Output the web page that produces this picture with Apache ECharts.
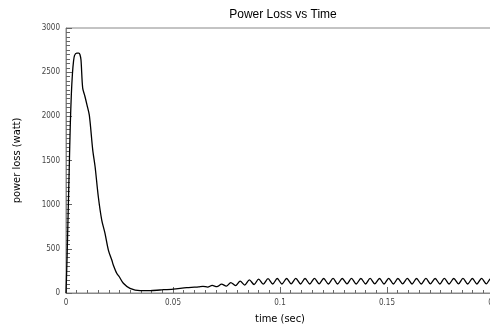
<!DOCTYPE html>
<html>
<head>
<meta charset="utf-8">
<script src="https://cdn.jsdelivr.net/npm/echarts@6/dist/echarts.min.js"></script>
<style>
  html, body { margin: 0; padding: 0; background: #fff; }
  #chart { width: 490px; height: 331px; }
</style>
</head>
<body>
<div id="chart"></div>
<script>
/* 时间 (s) 与 功率损耗 (W) */
const times = [
  0, 0.0005, 0.001, 0.0015, 0.002, 0.0025, 0.003, 0.0035, 0.004, 0.005, 0.006, 0.0065,
  0.007, 0.0078, 0.0088, 0.0098, 0.0109, 0.0125, 0.0136, 0.0151, 0.0167, 0.0182, 0.0198,
  0.0214, 0.0221, 0.0237, 0.0249, 0.0268, 0.0299, 0.0346, 0.0393, 0.0439, 0.0501, 0.0564,
  0.0600, 0.0620,
  0.0640, 0.0662, 0.0683, 0.0705, 0.0727, 0.0749, 0.0770, 0.0792, 0.0814, 0.0835,
  0.0857, 0.0879, 0.0900, 0.0922, 0.0944, 0.0966, 0.0987, 0.1009, 0.1031, 0.1052,
  0.1074, 0.1096, 0.1117, 0.1139, 0.1161, 0.1183, 0.1204, 0.1226, 0.1248, 0.1269,
  0.1291, 0.1313, 0.1334, 0.1356, 0.1378, 0.1400, 0.1421, 0.1443, 0.1465, 0.1486,
  0.1508, 0.1530, 0.1551, 0.1573, 0.1595, 0.1617, 0.1638, 0.1660, 0.1682, 0.1703,
  0.1725, 0.1747, 0.1768, 0.1790, 0.1812, 0.1834, 0.1855, 0.1877, 0.1899, 0.1920,
  0.1942, 0.1964, 0.1985, 0.2000
]
const powerLoss = [
  0, 400, 900, 1400, 1900, 2250, 2480, 2620, 2690, 2715, 2715, 2700,
  2640, 2320, 2230, 2130, 2013, 1618, 1429, 1090, 826, 678, 486,
  373, 317, 223, 184, 110, 53, 26, 26, 34, 45, 60,
  66, 70,
  76, 66, 86, 72, 100, 78, 118, 84, 134, 90, 148, 96,
  158, 100, 162, 102, 164, 102, 164, 104, 166, 102, 164, 102,
  166, 104, 164, 102, 166, 102, 164, 104, 166, 102, 164, 102,
  166, 104, 164, 102, 166, 102, 164, 104, 166, 102, 164, 102,
  166, 104, 164, 102, 166, 102, 164, 104, 166, 102, 164, 102,
  166, 104, 164, 134
]
const yTicks = [0, 500, 1000, 1500, 2000, 2500, 3000]

const chart = echarts.init(document.getElementById('chart'))

const FONT = 'DejaVu Sans Condensed, Liberation Sans, sans-serif'
const labelFont = { color: '#444', fontSize: 8, fontFamily: FONT }

const option = {
  animation: false,
  title: {
    text: 'Power Loss vs Time',
    left: 278,
    top: 4,
    textAlign: 'center',
    textStyle: { fontFamily: 'Liberation Sans', fontSize: 12, fontWeight: 'normal', color: '#000' }
  },
  grid: {
    left: 66,
    top: 28,
    right: -4,
    bottom: 38,
    outerBoundsMode: 'none',
    containLabel: false,
    show: true,
    borderColor: '#888',
    borderWidth: 1
  },
  xAxis: {
    type: 'value',
    min: 0,
    max: 0.2,
    interval: 0.05,
    name: 'time (sec)',
    nameLocation: 'middle',
    nameGap: 21,
    nameTextStyle: { fontFamily: FONT, fontSize: 11, color: '#000' },
    axisLine: { lineStyle: { color: '#888' } },
    axisTick: { inside: true, length: 6, lineStyle: { color: '#666' } },
    minorTick: { show: true, splitNumber: 10, length: 3, lineStyle: { color: '#666' } },
    splitLine: { show: false },
    axisLabel: { ...labelFont, margin: 6, formatter: v => String(+v.toFixed(2)) }
  },
  yAxis: {
    type: 'value',
    min: 0,
    max: 3000,
    interval: 500,
    name: 'power loss (watt)',
    nameLocation: 'middle',
    nameGap: 43,
    nameTextStyle: { fontFamily: FONT, fontSize: 11, color: '#000' },
    axisLine: { show: true, lineStyle: { color: '#888' } },
    axisTick: { inside: true, length: 6, lineStyle: { color: '#666' } },
    minorTick: { show: true, splitNumber: 10, length: 4, lineStyle: { color: '#666' } },
    splitLine: { show: false },
    axisLabel: { ...labelFont, margin: 6, formatter: v => (yTicks.includes(v) ? String(v) : '') }
  },
  series: [
    {
      type: 'line',
      data: times.map((t, i) => [t, powerLoss[i]]),
      showSymbol: false,
      smooth: 0.3,
      lineStyle: { color: '#000', width: 1.3 }
    }
  ]
}

chart.setOption(option)
</script>
</body>
</html>
